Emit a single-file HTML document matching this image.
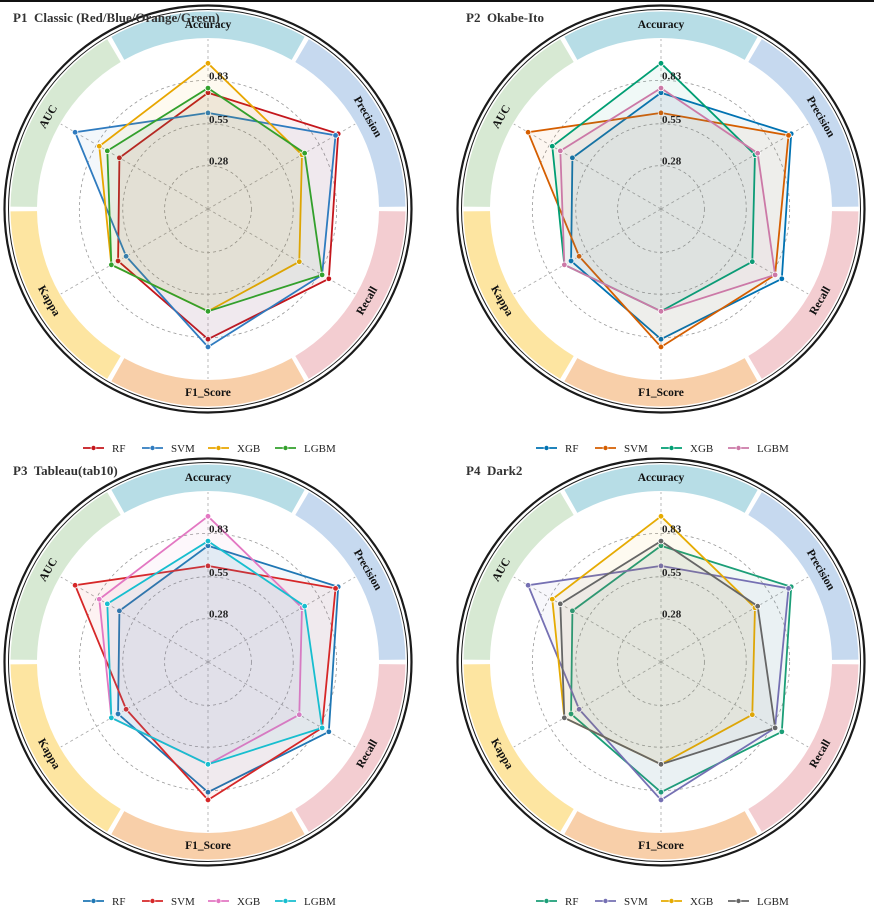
<!DOCTYPE html>
<html><head><meta charset="utf-8">
<style>
html,body{margin:0;padding:0;background:#fff;}
svg{display:block;font-family:"Liberation Serif",serif;}
text{white-space:pre;}
</style></head>
<body>
<svg id="chart" width="874" height="913" viewBox="0 0 874 913" xmlns="http://www.w3.org/2000/svg">
<rect x="0" y="0" width="874" height="913" fill="#fff"/>
<line x1="0" y1="1" x2="874" y2="1" stroke="#111" stroke-width="2"/>
</svg>
<script>
const metrics = ["Accuracy","Precision","Recall","F1_Score","Kappa","AUC"];
const models = ["RF","SVM","XGB","LGBM"];
const rfValues = [0.75,0.97,0.90,0.84,0.67,0.66];
const svmValues = [0.62,0.95,0.85,0.89,0.61,0.99];
const xgbValues = [0.94,0.70,0.68,0.66,0.72,0.81];
const lgbmValues = [0.78,0.72,0.85,0.66,0.72,0.75];
const tickValues = [0.28,0.55,0.83];
const tickLabels = ["0.28","0.55","0.83"];
const panelTitles = ["P1  Classic (Red/Blue/Orange/Green)","P2  Okabe-Ito","P3  Tableau(tab10)","P4  Dark2"];
const palettes = [
 ["#c4161c","#2f7bbf","#e8a600","#33a02c"],
 ["#0072B2","#D55E00","#009E73","#CC79A7"],
 ["#1f77b4","#d62728","#e377c2","#17becf"],
 ["#1b9e77","#7570b3","#e6ab02","#666666"]
];
const bandColors = ["#b7dde6","#c6d9ef","#f3cdd1","#f8cfa9","#fde5a1","#d7e9d3"];
const allValues = [rfValues,svmValues,xgbValues,lgbmValues];

const NS="http://www.w3.org/2000/svg";
const svg=document.getElementById('chart');
function mk(tag,attrs,parent){const e=document.createElementNS(NS,tag);for(const k in attrs)e.setAttribute(k,attrs[k]);(parent||svg).appendChild(e);return e;}
const SCALE=155;
function rScale(v){return v*SCALE;}
function angle(i){return (90-60*i)*Math.PI/180;}
function pt(cx,cy,r,i){const a=angle(i);return [cx+r*Math.cos(a),cy-r*Math.sin(a)];}
const centers=[[208,209],[661,209],[208,662],[661,662]];
const labelRot=[0,60,-60,0,60,-60];

centers.forEach((c,p)=>{
 const [cx,cy]=c;
 const g=mk('g',{});
 
 
 const o1=mk('circle',{cx,cy,r:203.5,fill:'none',stroke:'#1a1a1a','stroke-width':2.2},g);
 
 
 const o2=mk('circle',{cx,cy,r:199.5,fill:'none',stroke:'#1a1a1a','stroke-width':1},g);
 
 
 const r1=171,r2=197.5;
 metrics.forEach((m,i)=>{
  const a0=(90-60*i+29.3)*Math.PI/180,a1=(90-60*i-29.3)*Math.PI/180;
  const P=(r,a)=>[cx+r*Math.cos(a),cy-r*Math.sin(a)];
  const A=P(r2,a0),B=P(r2,a1),C=P(r1,a1),D=P(r1,a0);
  const d=`M${A[0]},${A[1]} A${r2},${r2} 0 0 1 ${B[0]},${B[1]} L${C[0]},${C[1]} A${r1},${r1} 0 0 0 ${D[0]},${D[1]} Z`;
  const s=mk('path',{d,fill:bandColors[i]},g);
  
  
  const [lx,ly]=pt(cx,cy,184,i);
  const t=mk('text',{x:lx,y:ly,'text-anchor':'middle','dominant-baseline':'central','font-size':11.5,'font-weight':'bold',fill:'#111',transform:`rotate(${labelRot[i]} ${lx} ${ly})`},g);
  t.textContent=m;
  
  
 });
 tickValues.forEach(v=>{
  const gc=mk('circle',{cx,cy,r:rScale(v),fill:'none',stroke:'#999','stroke-width':0.8,'stroke-dasharray':'3,3'},g);
  
  
 });
 metrics.forEach((m,i)=>{
  const [x2,y2]=pt(cx,cy,170,i);
  const l=mk('line',{x1:cx,y1:cy,x2,y2,stroke:'#aaa','stroke-width':0.8,'stroke-dasharray':'3,3'},g);
  
  
 });
 allValues.forEach((vals,s)=>{
  const col=palettes[p][s];
  const pts=vals.map((v,i)=>pt(cx,cy,rScale(v),i));
  const poly=mk('polygon',{points:pts.map(q=>q.join(',')).join(' '),fill:col,'fill-opacity':0.06,stroke:col,'stroke-width':1.8,'stroke-linejoin':'miter'},g);
  
  
  pts.forEach((q,i)=>{
   const d=mk('circle',{cx:q[0],cy:q[1],r:2.8,fill:col,stroke:'#fff','stroke-width':0.8},g);
   
   
  });
 });
 tickValues.forEach((v,k)=>{
  const t=mk('text',{x:cx+1,y:cy-rScale(v)-1,'font-size':11,'font-weight':'bold',fill:'#222'},g);
  t.textContent=tickLabels[k];
  
  
 });
 const tt=mk('text',{x:cx-195,y:cy-187,'font-size':13,'font-weight':'bold',fill:'#333'},g);
 tt.textContent=panelTitles[p];
 
 
 const ly=cy+239;
 const lx0=[cx-125,cx-66,cx+0,cx+67];
 models.forEach((m,s)=>{
  const col=palettes[p][s];
  const lg=mk('g',{},g);
  
  
  mk('line',{x1:lx0[s],y1:ly,x2:lx0[s]+21,y2:ly,stroke:col,'stroke-width':1.8},lg);
  mk('circle',{cx:lx0[s]+10.5,cy:ly,r:2.5,fill:col,stroke:'#fff','stroke-width':0.6},lg);
  const t=mk('text',{x:lx0[s]+29,y:ly+4,'font-size':11,fill:'#222'},lg);
  t.textContent=m;
 });
});
</script>
</body></html>
